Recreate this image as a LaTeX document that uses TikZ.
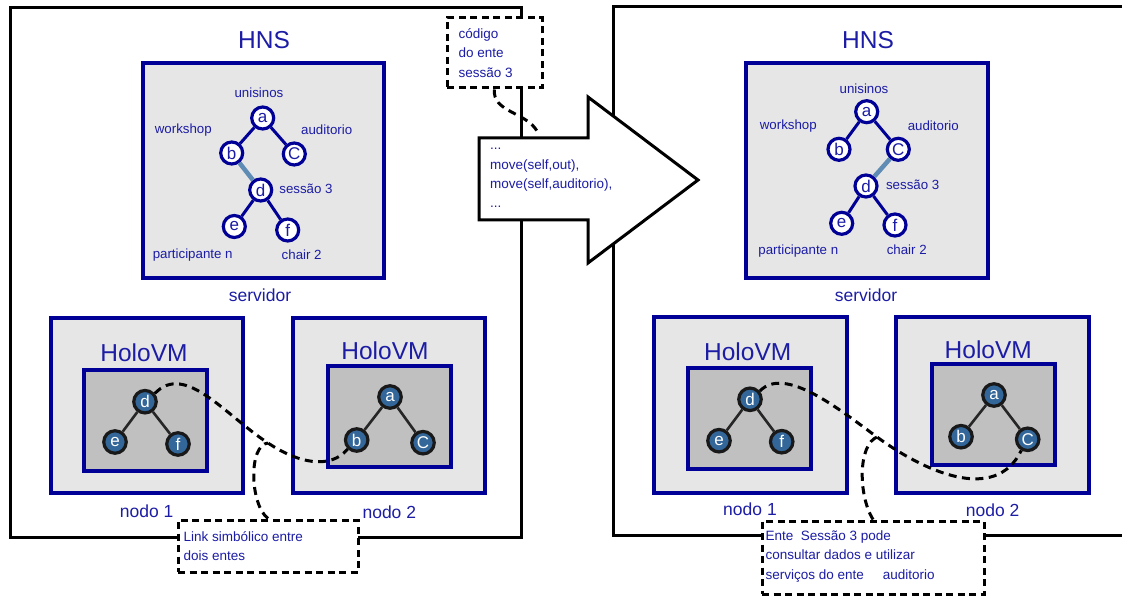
\documentclass[tikz,border=0pt]{standalone}
\usepackage{fontspec}
\setmainfont{Liberation Sans}
\usepackage{xcolor}
\usepackage{tikz}
\usetikzlibrary{positioning}

\definecolor{txtblue}{RGB}{28,28,165}
\definecolor{bdblue}{RGB}{0,0,150}
\definecolor{boxgray}{RGB}{230,230,230}
\definecolor{vmgray}{RGB}{192,192,192}
\definecolor{entblue}{RGB}{51,102,153}
\definecolor{linkblue}{RGB}{95,140,180}

\begin{document}
\begin{tikzpicture}[x=1pt, y=-1pt,
  frame/.style={rectangle, draw=black, line width=3pt, inner sep=0pt},
  srv/.style={rectangle, draw=bdblue, fill=boxgray, line width=3.2pt, inner sep=0pt},
  vmin/.style={rectangle, draw=bdblue, fill=vmgray, line width=3.2pt, inner sep=0pt},
  tn/.style={circle, draw=bdblue, fill=white, line width=3.2pt, minimum size=22pt, inner sep=0pt, text=txtblue, font=\fontsize{17}{17}\selectfont},
  hn/.style={circle, draw=black!90, fill=entblue, line width=3.2pt, minimum size=22.5pt, inner sep=0pt, text=white, font=\fontsize{17}{17}\selectfont},
  lbl/.style={text=txtblue, font=\fontsize{13.3}{16}\selectfont},
  big/.style={text=txtblue, font=\fontsize{24.5}{28}\selectfont},
  hostlbl/.style={text=txtblue, font=\fontsize{17.5}{20}\selectfont},
  note/.style={rectangle, draw=black, fill=white, line width=3pt, dash pattern=on 7pt off 4.5pt, inner sep=0pt},
  ntext/.style={text=txtblue, align=left, font=\fontsize{13.5}{19.5}\selectfont},
  link/.style={draw=black, line width=3pt, dash pattern=on 8pt off 5.5pt},
  tedge/.style={bdblue, line width=3pt},
  hedge/.style={black!85, line width=2.6pt}]
\useasboundingbox (0,0) rectangle (1122,596);

% HNS frames
\node[frame, minimum width=511, minimum height=529] (hnsL) at (265.5,272.5) {};
\node[frame, minimum width=522, minimum height=528] (hnsR) at (874,271) {};
\node[big] (tL) at (264,40) {HNS};
\node[big] (tR) at (868,40) {HNS};

% servers
\node[srv, minimum width=241, minimum height=215] (srvL) at (263.5,170.5) {};
\node[srv, minimum width=242, minimum height=215] (srvR) at (867,170.5) {};
\node[hostlbl] (svL) at (260,295) {servidor};
\node[hostlbl] (svR) at (866,295) {servidor};

% tree, before the move
\node[tn] (aL) at (262.7,118) {a};
\node[tn] (bL) at (231.7,153) {b};
\node[tn] (cL) at (294.3,154) {C};
\node[tn] (dL) at (260.7,190) {d};
\node[tn] (eL) at (234.3,226.5) {e};
\node[tn] (fL) at (287.7,230) {f};
\draw[tedge] (aL) -- (bL); \draw[tedge] (aL) -- (cL);
\draw[linkblue, line width=4.5pt] (bL) -- (dL);
\draw[tedge] (dL) -- (eL); \draw[tedge] (dL) -- (fL);
\node[lbl] at (259,93) {unisinos};
\node[lbl] at (183.3,130) {workshop};
\node[lbl] at (326.7,130) {auditorio};
\node[lbl] at (306,188.3) {sessão 3};
\node[lbl] at (192.7,255) {participante n};
\node[lbl] at (301.7,254.3) {chair 2};

% tree, after the move
\node[tn] (aR) at (866.7,111.7) {a};
\node[tn] (bR) at (839,149.3) {b};
\node[tn] (cR) at (898.3,149.3) {C};
\node[tn] (dR) at (866,186) {d};
\node[tn] (eR) at (841.7,223.3) {e};
\node[tn] (fR) at (895,225) {f};
\draw[tedge] (aR) -- (bR); \draw[tedge] (aR) -- (cR);
\draw[linkblue, line width=4.5pt] (cR) -- (dR);
\draw[tedge] (dR) -- (eR); \draw[tedge] (dR) -- (fR);
\node[lbl] at (864,88.3) {unisinos};
\node[lbl] at (788.3,125.7) {workshop};
\node[lbl] at (933.3,125.7) {auditorio};
\node[lbl] at (912.7,185) {sessão 3};
\node[lbl] at (798.3,250.7) {participante n};
\node[lbl] at (906.7,250) {chair 2};

% HoloVM nodes, left
\node[srv, minimum width=192, minimum height=175] (n1L) at (147,405.5) {};
\node[vmin, minimum width=123, minimum height=101] (v1L) at (145.5,420.5) {};
\node[big] at (144,352.7) {HoloVM};
\node[hostlbl] at (146.7,511) {nodo 1};
\node[srv, minimum width=192, minimum height=175] (n2L) at (389,405.5) {};
\node[vmin, minimum width=123, minimum height=101] (v2L) at (389.5,416.5) {};
\node[big] at (385,350.7) {HoloVM};
\node[hostlbl] at (389.3,512) {nodo 2};

\node[hn] (hdL) at (145,401.7) {d};
\node[hn] (heL) at (115,442) {e};
\node[hn] (hfL) at (178,444) {f};
\draw[hedge] (hdL) -- (heL); \draw[hedge] (hdL) -- (hfL);
\node[hn] (haL) at (390,397) {a};
\node[hn] (hbL) at (356.7,440) {b};
\node[hn] (hcL) at (423,442.7) {C};
\draw[hedge] (haL) -- (hbL); \draw[hedge] (haL) -- (hcL);

% HoloVM nodes, right
\node[srv, minimum width=193, minimum height=176] (n1R) at (750.5,405) {};
\node[vmin, minimum width=123, minimum height=101] (v1R) at (749.5,418.5) {};
\node[big] at (747.7,351.7) {HoloVM};
\node[hostlbl] at (750,509) {nodo 1};
\node[srv, minimum width=193, minimum height=176] (n2R) at (992.5,405) {};
\node[vmin, minimum width=123, minimum height=101] (v2R) at (993.5,414.5) {};
\node[big] at (988.3,349.3) {HoloVM};
\node[hostlbl] at (992.7,510) {nodo 2};

\node[hn] (hdR) at (750,399.3) {d};
\node[hn] (heR) at (719,440.7) {e};
\node[hn] (hfR) at (781.7,441.7) {f};
\draw[hedge] (hdR) -- (heR); \draw[hedge] (hdR) -- (hfR);
\node[hn] (haR) at (994,395) {a};
\node[hn] (hbR) at (961,436.7) {b};
\node[hn] (hcR) at (1027.7,439.3) {C};
\draw[hedge] (haR) -- (hbR); \draw[hedge] (haR) -- (hcR);

% migration arrow
\draw[line width=3pt, fill=white, line join=miter]
  (479,138) -- (588,138) -- (588,97) -- (698,180) -- (588,263) -- (588,220) -- (479,220) -- cycle;
\coordinate (arrtop) at (537,131);
\node[ntext, anchor=west, font=\fontsize{13.5}{19.2}\selectfont] (mv) at (486.5,178)
  {...\\move(self,out),\\move(self,auditorio),\\...};

% notes
\node[note, minimum width=95, minimum height=70] (code) at (494.5,53) {};
\node[ntext, anchor=west] at ([xshift=9.5pt]code.west) {código\\do ente\\sessão 3};
\node[note, minimum width=180, minimum height=52] (lnk) at (268,546) {};
\node[ntext, anchor=west, font=\fontsize{13.5}{18.5}\selectfont] at ([xshift=3.5pt]lnk.west) {Link simbólico entre\\dois entes};
\node[note, minimum width=222, minimum height=73] (info) at (873,557.5) {};
\node[ntext, anchor=west] at ([xshift=1.5pt,yshift=1pt]info.west)
  {Ente~ Sessão 3 pode\\consultar dados e utilizar\\serviços do ente\hspace{19pt}auditorio};

% dashed links
\coordinate (jL) at (268,443);
\coordinate (jR) at (877,437);
\draw[link] (code.south) .. controls (492,112) and (526,112) .. (arrtop);
\draw[link] (hdL.40) .. controls (185,362) and (225,415) .. (jL) .. controls (298,463) and (330,470) .. (hbL.225);
\draw[link] (lnk.north) .. controls (250,505) and (248,445) .. (jL);
\draw[link] (hdR.40) .. controls (785,365) and (840,410) .. (jR) .. controls (922,470) and (995,505) .. (hcR.240);
\draw[link] (info.north) .. controls (858,495) and (858,445) .. (jR);
\end{tikzpicture}
\end{document}
